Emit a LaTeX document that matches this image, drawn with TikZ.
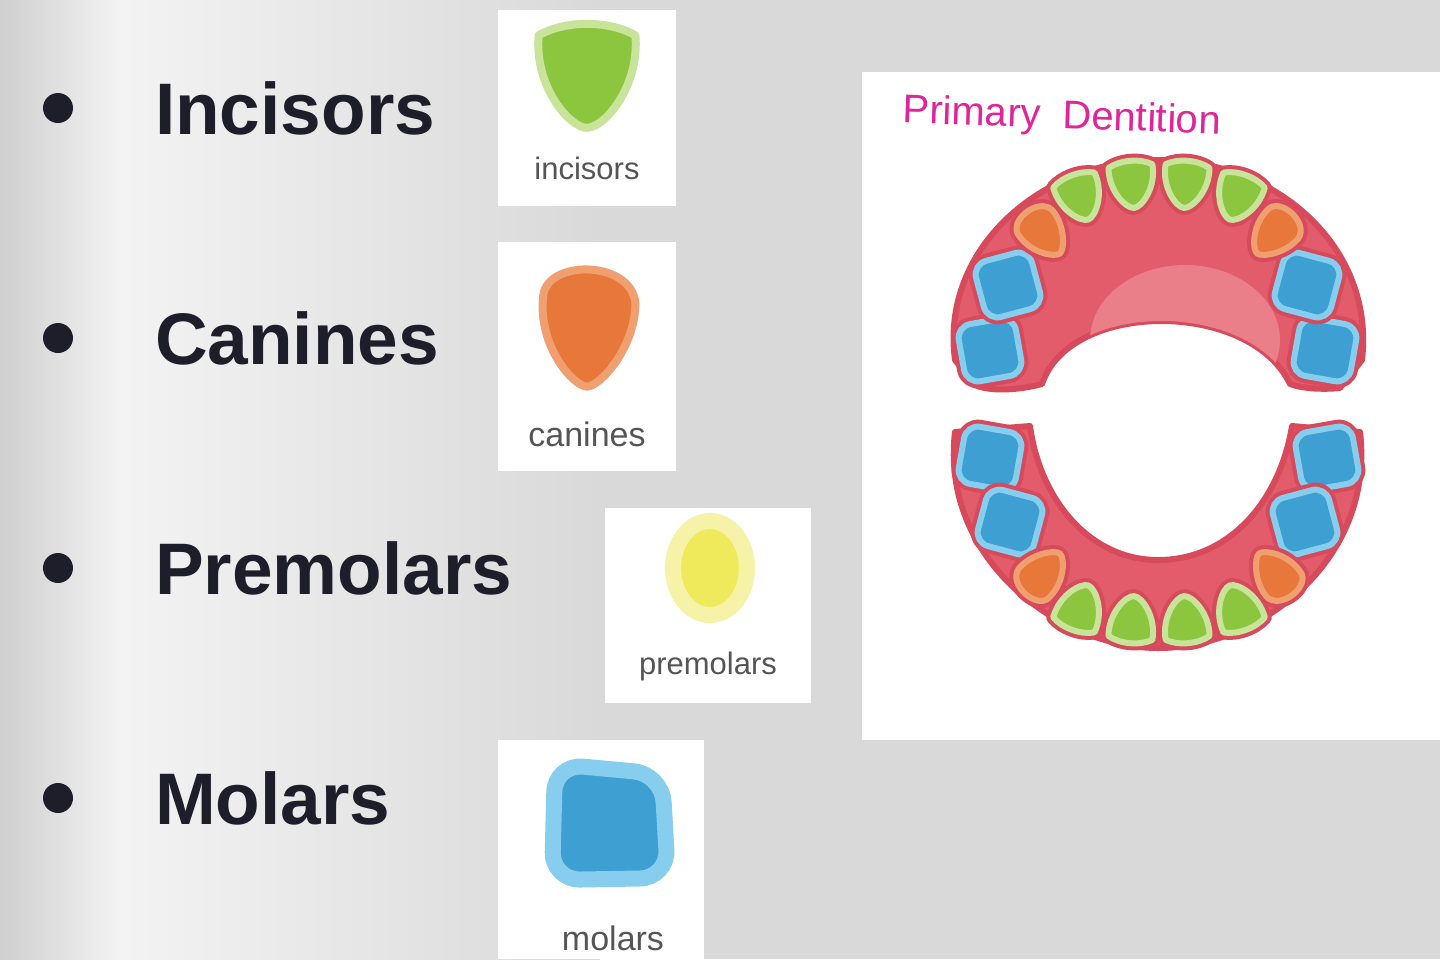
\documentclass[tikz,border=0pt]{standalone}
\usepackage{fontspec}
\setmainfont{Liberation Sans}
\definecolor{incfill}{HTML}{8CC63F}\definecolor{incrim}{HTML}{C8E39A}
\definecolor{canfill}{HTML}{E8773A}\definecolor{canrim}{HTML}{F0A070}
\definecolor{premfill}{HTML}{EEEA5C}\definecolor{premrim}{HTML}{F6F3A8}
\definecolor{molfill}{HTML}{3E9FD3}\definecolor{molrim}{HTML}{86CDEE}
\definecolor{arch}{HTML}{E25C6B}\definecolor{archdark}{HTML}{D64A5C}
\definecolor{palate}{HTML}{EA7E89}\definecolor{titlec}{HTML}{E0249A}
\definecolor{txt}{HTML}{1E1E2A}\definecolor{lbl}{HTML}{555555}
\definecolor{bgA}{HTML}{CFCFCF}\definecolor{bgB}{HTML}{F3F3F3}\definecolor{bgC}{HTML}{D9D9D9}
\tikzset{
 gum/.style={preaction={draw=archdark,line width=7}},
 inc/.pic={\path[gum,fill=incfill,draw=incrim,line width=3] (-22,-18) .. controls (-10,-25) and (10,-25) .. (22,-18) .. controls (24,5) and (8,24) .. (0,24) .. controls (-8,24) and (-24,5) .. cycle;},
 can/.pic={\path[gum,fill=canfill,draw=canrim,line width=3] (-20,-12) .. controls (-20,-30) and (20,-30) .. (22,-10) .. controls (22,10) and (6,28) .. (0,28) .. controls (-6,28) and (-22,10) .. cycle;},
 mol/.pic={\path[gum,fill=molfill,draw=molrim,line width=3,rounded corners=7] (-29,-29) rectangle (29,29);},
 leginc/.pic={\path[fill=incfill,draw=incrim,line width=4] (-22,-18) .. controls (-10,-25) and (10,-25) .. (22,-18) .. controls (24,5) and (8,24) .. (0,24) .. controls (-8,24) and (-24,5) .. cycle;},
 legcan/.pic={\path[fill=canfill,draw=canrim,line width=4] (-20,-12) .. controls (-20,-30) and (20,-30) .. (22,-10) .. controls (22,10) and (6,28) .. (0,28) .. controls (-6,28) and (-22,10) .. cycle;},
 big/.style={font=\bfseries\fontsize{36.5}{40}\selectfont,text=txt,anchor=west},
 small/.style={font=\fontsize{15.5}{18}\selectfont,text=lbl},
 card/.style={fill=white}
}
\begin{document}
\begin{tikzpicture}[x=0.5pt,y=-0.5pt,line join=round]
\useasboundingbox (0,0) rectangle (1440,959);
\fill[bgC] (0,0) rectangle (1440,959);
\shade[left color=bgA,right color=bgB] (0,0) rectangle (121,959);
\shade[left color=bgB,right color=bgC] (120,0) rectangle (600,959);
% bullets
\foreach \y/\t/\n in {108/Incisors/a,338/Canines/b,568/Premolars/c,798/Molars/d}{
 \fill[txt] (58,\y) circle (15);
 \node[big] (\n) at (148,\y) {\t};}
% cards
\fill[card] (498,10) rectangle (676,206);
\pic[scale=2.2] at (587,75) {leginc};
\node[small] (li) at (587,168) {incisors};
\fill[card] (498,242) rectangle (676,471);
\pic[scale=2.2] at (587,325) {legcan};
\node[small,font=\fontsize{17}{20}\selectfont] (lc) at (587,434) {canines};
\fill[card] (605,508) rectangle (811,703);
\fill[premfill,draw=premrim,line width=8] (710,568) ellipse (37 and 47);
\node[small] (lp) at (708,666) {premolars};
\fill[card] (498,740) rectangle (704,959);
\path[fill=molfill,draw=molrim,line width=8,rounded corners=14] (555,764) -- (662,774) -- (668,878) -- (552,880) -- cycle;
\node[small,font=\fontsize{17}{20}\selectfont] (lm) at (613,938) {molars};
% panel
\fill[white] (862,72) rectangle (1440,740);
\node[text=titlec,font=\fontsize{20}{24}\selectfont,rotate=-2] (title) at (1062,118) {Primary\; Dentition};
% upper arch
\def\upper{(955,360) .. controls (940,250) and (1040,160) .. (1158,160) .. controls (1280,160) and (1375,250) .. (1362,360) -- (1340,388) .. controls (1320,390) and (1300,388) .. (1290,384) .. controls (1250,300) and (1070,300) .. (1042,384) .. controls (1020,390) and (990,392) .. (975,385) -- cycle}
\path[fill=arch,draw=archdark,line width=3] \upper;
\begin{scope}
\clip \upper;
\fill[palate] (1185,340) ellipse (95 and 75);
\end{scope}
% lower arch
\path[fill=arch,draw=archdark,line width=3] (955,432) .. controls (940,560) and (1060,648) .. (1158,648) .. controls (1260,648) and (1375,560) .. (1360,432) -- (1292,426) .. controls (1280,500) and (1230,560) .. (1158,560) .. controls (1090,560) and (1040,500) .. (1030,426) -- cycle;
% upper teeth
\pic[rotate=10] at (990,350) {mol};
\pic[rotate=15] at (1008,285) {mol};
\pic[rotate=-10] at (1325,350) {mol};
\pic[rotate=-15] at (1307,285) {mol};
\pic[rotate=40] at (1042,232) {can};
\pic[rotate=-40] at (1275,232) {can};
\pic[rotate=20] at (1080,197) {inc};
\pic[rotate=5] at (1132,184) {inc};
\pic[rotate=-5] at (1186,184) {inc};
\pic[rotate=-20] at (1238,197) {inc};
% lower teeth
\pic[rotate=-10] at (990,458) {mol};
\pic[rotate=-15] at (1010,522) {mol};
\pic[rotate=10] at (1327,458) {mol};
\pic[rotate=15] at (1305,522) {mol};
\pic[rotate=140] at (1042,575) {can};
\pic[rotate=-140] at (1277,575) {can};
\pic[rotate=160] at (1080,608) {inc};
\pic[rotate=175] at (1132,620) {inc};
\pic[rotate=185] at (1186,620) {inc};
\pic[rotate=200] at (1238,608) {inc};
\end{tikzpicture}
\end{document}
